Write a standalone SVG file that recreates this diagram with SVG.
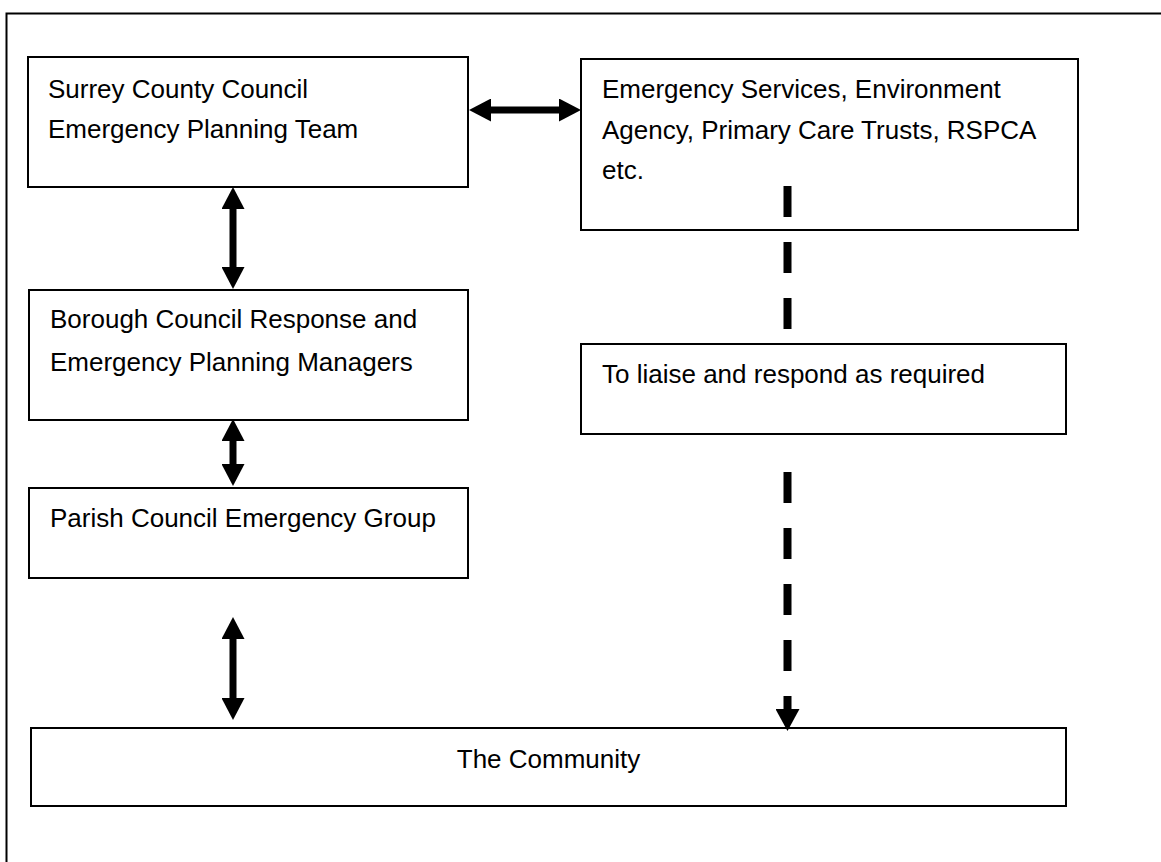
<svg xmlns="http://www.w3.org/2000/svg" width="1161" height="862" viewBox="0 0 1161 862">
<style>
.box{fill:#fff;stroke:#000;stroke-width:2}
.t{font-family:"Liberation Sans",Arial,sans-serif;font-size:26px;fill:#000}
.frame{fill:none;stroke:#000;stroke-width:2}
.arr{stroke:#000;stroke-width:7;fill:none;marker-start:url(#ah);marker-end:url(#ah)}
.dash{stroke:#000;stroke-width:8;fill:none;stroke-dasharray:31 25}
</style>
<defs>
<marker id="ah" viewBox="0 0 22 23" refX="2" refY="11.5" markerWidth="22" markerHeight="23" markerUnits="userSpaceOnUse" orient="auto-start-reverse">
<path d="M0,0 L22,11.5 L0,23 z" fill="#000"/>
</marker>
<marker id="ahe" viewBox="0 0 22 24" refX="2" refY="12" markerWidth="22" markerHeight="24" markerUnits="userSpaceOnUse" orient="auto">
<path d="M0,0 L22,12 L0,24 z" fill="#000"/>
</marker>
</defs>
<rect width="1161" height="862" fill="#fff"/>
<path class="frame" d="M6.5,862 V13.5 H1161"/>
<g id="surrey">
<rect class="box" x="28" y="57" width="440" height="130"/>
<text class="t" x="48" y="97.5">Surrey County Council</text>
<text class="t" x="48" y="137.5">Emergency Planning Team</text>
</g>
<g id="services">
<rect class="box" x="581" y="59" width="497" height="171"/>
<text class="t" x="602" y="98">Emergency Services, Environment</text>
<text class="t" x="602" y="139">Agency, Primary Care Trusts, RSPCA</text>
<text class="t" x="602" y="179">etc.</text>
</g>
<g id="borough">
<rect class="box" x="29" y="290" width="439" height="130"/>
<text class="t" x="50" y="328">Borough Council Response and</text>
<text class="t" x="50" y="371">Emergency Planning Managers</text>
</g>
<g id="liaise">
<rect class="box" x="581" y="344" width="485" height="90"/>
<text class="t" x="602" y="383">To liaise and respond as required</text>
</g>
<g id="parish">
<rect class="box" x="29" y="488" width="439" height="90"/>
<text class="t" x="50" y="527">Parish Council Emergency Group</text>
</g>
<g id="community">
<rect class="box" x="31" y="728" width="1035" height="78"/>
<text class="t" x="548.5" y="768" text-anchor="middle">The Community</text>
</g>
<g id="connectors">
<line class="arr" x1="489" y1="110" x2="561" y2="110"/>
<line class="arr" x1="233" y1="207" x2="233" y2="269"/>
<line class="arr" x1="233" y1="439" x2="233" y2="466"/>
<line class="arr" x1="233" y1="637" x2="233" y2="700"/>
<line class="dash" x1="787.5" y1="186" x2="787.5" y2="329"/>
<line class="dash" x1="787.5" y1="472" x2="787.5" y2="711" marker-end="url(#ahe)"/>
</g>
</svg>
